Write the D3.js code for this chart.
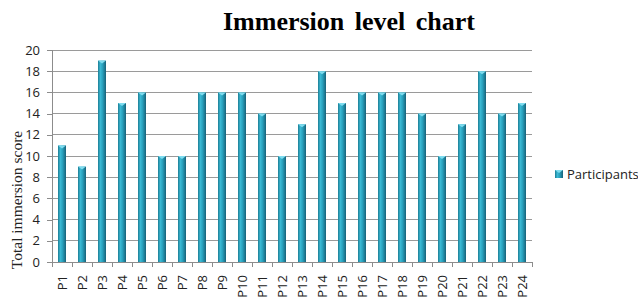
<!DOCTYPE html>
<html><head><meta charset="utf-8">
<script src="https://cdn.jsdelivr.net/npm/d3@7"></script>
<style>body{margin:0;background:#fff}svg{display:block}</style>
</head><body>
<script>
const categories = ["P1","P2","P3","P4","P5","P6","P7","P8","P9","P10","P11","P12","P13","P14","P15","P16","P17","P18","P19","P20","P21","P22","P23","P24"];
const participants = [11,9,19,15,16,10,10,16,16,16,14,10,13,18,15,16,16,16,14,10,13,18,14,15];
const yTicks = [0,2,4,6,8,10,12,14,16,18,20];
const seriesName = "Participants";
const title = "Immersion level chart";
const yLabel = "Total immersion score";

const W = 638, H = 301;
const m = {left: 52, right: 106, top: 50, bottom: 39};
const svg = d3.select("body").append("svg").attr("width", W).attr("height", H);
const defs = svg.append("defs");
const g1 = defs.append("linearGradient").attr("id","bar").attr("x1",0).attr("x2",1).attr("y1",0).attr("y2",0);
g1.append("stop").attr("offset","0%").attr("stop-color","#1c7d94");
g1.append("stop").attr("offset","30%").attr("stop-color","#3bb9d4");
g1.append("stop").attr("offset","55%").attr("stop-color","#2aa3bf");
g1.append("stop").attr("offset","100%").attr("stop-color","#17627a");

const x = d3.scaleBand().domain(categories).range([m.left, W - m.right]).paddingInner(0.6).paddingOuter(0.3);
const y = d3.scaleLinear().domain([0,20]).range([H - m.bottom, m.top]);

// gridlines
svg.append("g").selectAll("line").data(yTicks.filter(d=>d>0)).join("line")
  .attr("x1", m.left).attr("x2", W - m.right)
  .attr("y1", d=>y(d)).attr("y2", d=>y(d))
  .attr("stroke","#9a9a9a").attr("stroke-width",1).attr("shape-rendering","crispEdges");

// y axis
const ya = svg.append("g").attr("transform",`translate(${m.left},0)`)
  .call(d3.axisLeft(y).tickValues(yTicks).tickSize(5).tickPadding(7));
ya.selectAll("line,path").attr("stroke","#8c8c8c").attr("shape-rendering","crispEdges");
ya.selectAll("text").attr("font-family","'Open Sans', 'Liberation Sans', sans-serif").attr("font-size",13).attr("fill","#222");

// bars
const bw = x.bandwidth();
const bars = svg.append("g").selectAll("g").data(categories.map((c,i)=>({c, v: participants[i]}))).join("g");
bars.append("rect").attr("x", d=>x(d.c)).attr("y", d=>y(d.v)).attr("width", bw).attr("height", d=>y(0)-y(d.v)).attr("fill","url(#bar)");
bars.append("path").attr("d", d=>{const x0=x(d.c), yy=y(d.v); return `M${x0},${yy}L${x0+bw},${yy}L${x0+bw/2},${yy+3}Z`;}).attr("fill","#7fdcef");

// x axis
const xa = svg.append("g").attr("transform",`translate(0,${y(0)})`)
  .call(d3.axisBottom(x).tickSize(0).tickPadding(6));
xa.select("path").attr("stroke","#8c8c8c").attr("shape-rendering","crispEdges");
const step = x.step();
const bounds = d3.range(categories.length+1).map(i=>m.left + i*step);
xa.append("g").selectAll("line").data(bounds).join("line")
  .attr("x1",d=>d).attr("x2",d=>d).attr("y1",0).attr("y2",5).attr("stroke","#8c8c8c").attr("shape-rendering","crispEdges");
xa.selectAll(".tick text").attr("font-family","'Open Sans', 'Liberation Sans', sans-serif").attr("font-size",13).attr("fill","#222")
  .attr("transform","rotate(-90)").attr("text-anchor","end").attr("dy","0.35em").attr("x",-13).attr("y",0);

// title
svg.append("text").attr("x",349).attr("y",30).attr("text-anchor","middle")
  .attr("font-family","'Liberation Serif', serif").attr("font-weight","bold").attr("font-size",26).attr("word-spacing",4).attr("fill","#000").text(title);

// y label
svg.append("text").attr("transform",`translate(22,${200}) rotate(-90)`).attr("text-anchor","middle")
  .attr("font-family","'Liberation Serif', serif").attr("font-size",15.5).attr("fill","#222").text(yLabel);

// legend
const lg = svg.append("g").attr("transform","translate(555,170)");
lg.append("rect").attr("width",8).attr("height",8).attr("fill","url(#bar)");
lg.append("path").attr("d","M0,0L8,0L4,3Z").attr("fill","#7fdcef");
lg.append("text").attr("x",12).attr("y",8.5).attr("font-family","'Open Sans', 'Liberation Sans', sans-serif").attr("font-size",13).attr("fill","#222").text(seriesName);
</script>
</body></html>
